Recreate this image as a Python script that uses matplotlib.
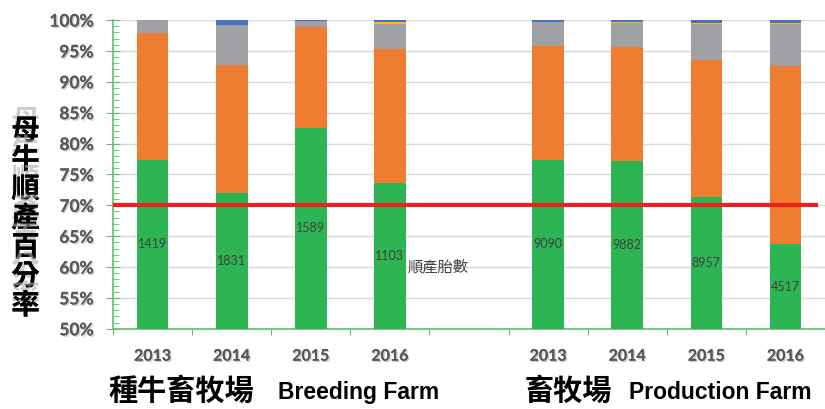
import matplotlib
matplotlib.use("Agg")
import matplotlib.pyplot as plt
import matplotlib.patheffects as pe
from matplotlib.ticker import MultipleLocator, FixedLocator, NullFormatter
import numpy as np

plt.rcParams['font.family'] = ['Lato', 'Noto Sans CJK TC', 'DejaVu Sans']

years = ["2013", "2014", "2015", "2016"]
groups = ["種牛畜牧場", "畜牧場"]
group_en = ["Breeding Farm", "Production Farm"]

# cumulative tops (percent) for each stacked segment, breeding then production farm
green_top = [77.4, 72.0, 82.5, 73.6, 77.4, 77.2, 71.4, 63.7]
orange_top = [97.9, 92.7, 98.9, 95.3, 95.8, 95.6, 93.5, 92.6]
gray_top = [100.0, 99.2, 99.9, 99.35, 99.7, 99.5, 99.35, 99.4]
yellow_top = [100.0, 99.2, 99.9, 99.7, 99.7, 99.7, 99.6, 99.5]
blue_top = [100.0, 100.0, 100.0, 100.0, 100.0, 100.0, 100.0, 100.0]
counts = [1419, 1831, 1589, 1103, 9090, 9882, 8957, 4517]
threshold = 70
count_label = "順產胎數"
ylabel = "母牛順產百分率"

colors = ["#2DB553", "#EE7D31", "#A0A1A4", "#FFC000", "#4472C4"]
axis_green = "#5CC26A"

fig = plt.figure(figsize=(8.25, 4.09), dpi=100)
ax = fig.add_axes([0.137, 0.196, 0.863, 0.755])

xpos = np.array([0, 1, 2, 3, 5, 6, 7, 8])
base = 50
w = 0.4
tops = [green_top, orange_top, gray_top, yellow_top, blue_top]
prev = np.full(len(xpos), base, dtype=float)
for top, c in zip(tops, colors):
    t = np.array(top, dtype=float)
    ax.bar(xpos, t - prev, w, bottom=prev, color=c, zorder=3, linewidth=0)
    prev = t

for x, g, n in zip(xpos, green_top, counts):
    ax.text(x, (base + g) / 2, str(n), ha='center', va='center', fontsize=9,
            color='#404040', zorder=5)
ax.text(3.22, 60.0, count_label, ha='left', va='center', fontsize=11,
        color='#404040', family=['Noto Sans CJK TC'], zorder=5)

ax.axhline(threshold, xmin=0, xmax=0.988, color='#F02020', lw=3, zorder=6)

ax.set_xlim(-0.5, 8.5)
ax.set_ylim(50, 100)
ax.yaxis.set_major_locator(MultipleLocator(5))
ax.yaxis.set_minor_locator(MultipleLocator(1))
ax.set_yticklabels([f"{int(v)}%" for v in ax.get_yticks()])
ax.grid(axis='y', color='#D9D9D9', lw=1, zorder=0)
ax.set_axisbelow(True)

ax.xaxis.set_major_locator(FixedLocator(np.arange(-0.5, 9, 1)))
ax.xaxis.set_major_formatter(NullFormatter())
ax.xaxis.set_minor_locator(FixedLocator(xpos))
ax.set_xticklabels(years * 2, minor=True)

for s in ['top', 'right']:
    ax.spines[s].set_visible(False)
for s in ['left', 'bottom']:
    ax.spines[s].set_color(axis_green)
    ax.spines[s].set_linewidth(1.2)

shadow = [pe.withSimplePatchShadow(offset=(1, -1), shadow_rgbFace='#999999', alpha=0.5), pe.Normal()]
ax.tick_params(axis='y', which='major', direction='inout', length=10, color=axis_green,
               labelsize=12.5, labelcolor='#595959', pad=9)
ax.tick_params(axis='y', which='minor', direction='in', length=4.3, color=axis_green)
ax.tick_params(axis='x', which='major', direction='out', length=4.5, color=axis_green)
ax.tick_params(axis='x', which='minor', length=0, labelsize=11.5, labelcolor='#595959', pad=15)
for lab in ax.get_yticklabels() + ax.get_xticklabels(minor=True):
    lab.set_fontweight('bold')
    lab.set_path_effects(shadow)

# vertical y label with faint ghost shadow above
ytxt = "\n".join(ylabel)
ghost = [pe.withSimplePatchShadow(offset=(0, 7), shadow_rgbFace='#AAAAAA', alpha=0.6), pe.Normal()]
fig.text(0.031, 0.465, ytxt, ha='center', va='center', fontsize=20.5, fontweight='bold',
         color='black', family=['Noto Sans CJK TC'], linespacing=1.05, path_effects=ghost)

# group labels
fig.text(0.132, 0.045, groups[0], ha='left', va='center', fontsize=21, fontweight='bold',
         family=['Noto Sans CJK TC'])
fig.text(0.337, 0.04, group_en[0], ha='left', va='center', fontsize=16.5, fontweight='bold',
         family=['Liberation Sans'])
fig.text(0.636, 0.045, groups[1], ha='left', va='center', fontsize=21, fontweight='bold',
         family=['Noto Sans CJK TC'])
fig.text(0.762, 0.04, group_en[1], ha='left', va='center', fontsize=16.5, fontweight='bold',
         family=['Liberation Sans'])

fig.savefig("out.png", dpi=100)
